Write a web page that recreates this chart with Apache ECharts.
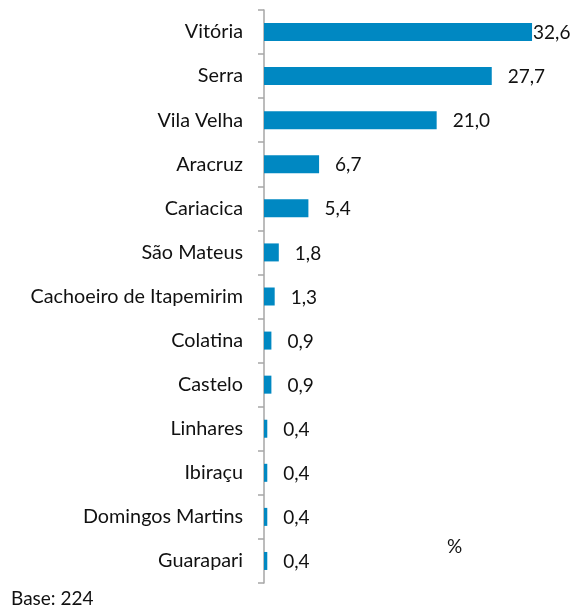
<!DOCTYPE html>
<html><head><meta charset="utf-8">
<script src="https://cdn.jsdelivr.net/npm/echarts@6/dist/echarts.min.js"></script>
<style>html,body{margin:0;padding:0;background:#fff}#c{width:584px;height:610px}</style>
</head><body><div id="c"></div>
<script>
const categories = ["Vitória","Serra","Vila Velha","Aracruz","Cariacica","São Mateus","Cachoeiro de Itapemirim","Colatina","Castelo","Linhares","Ibiraçu","Domingos Martins","Guarapari"];
const values = [32.6,27.7,21.0,6.7,5.4,1.8,1.3,0.9,0.9,0.4,0.4,0.4,0.4];
const unitLabel = "%";
const baseNote = "Base: 224";
const FONT = "Lato";
const FS = 19;
const chart = echarts.init(document.getElementById('c'), null, {renderer:'canvas'});
chart.setOption({
  animation:false,
  textStyle:{fontFamily:FONT},
  grid:{left:264, top:10, bottom:27, right:24, containLabel:false},
  xAxis:{type:'value', min:0, max:36, show:false},
  yAxis:{type:'category', inverse:true, data:categories,
    axisLine:{show:true, lineStyle:{color:'#A6A6A6', width:1.5}},
    axisTick:{show:true, length:6, lineStyle:{color:'#A6A6A6', width:1.5}},
    axisLabel:{color:'#111', fontSize:19.8, fontFamily:FONT, margin:21}
  },
  series:[{type:'bar', data:values.map((v,i)=>({value:v, label:{distance: i===0?1:16}})), barWidth:18,
    itemStyle:{color:'#0088C2'},
    label:{show:true, position:'right', color:'#111', fontSize:FS, fontFamily:FONT,
      formatter:p=>p.value.toFixed(1).replace('.',','), offset:[0,1]}
  }],
  graphic:[
    {type:'text', left:447, top:537, style:{text:unitLabel, fontSize:FS, fontFamily:FONT, fill:'#111'}},
    {type:'text', left:11, top:589, style:{text:baseNote, fontSize:FS, fontFamily:FONT, fill:'#111'}}
  ]
});
</script></body></html>
